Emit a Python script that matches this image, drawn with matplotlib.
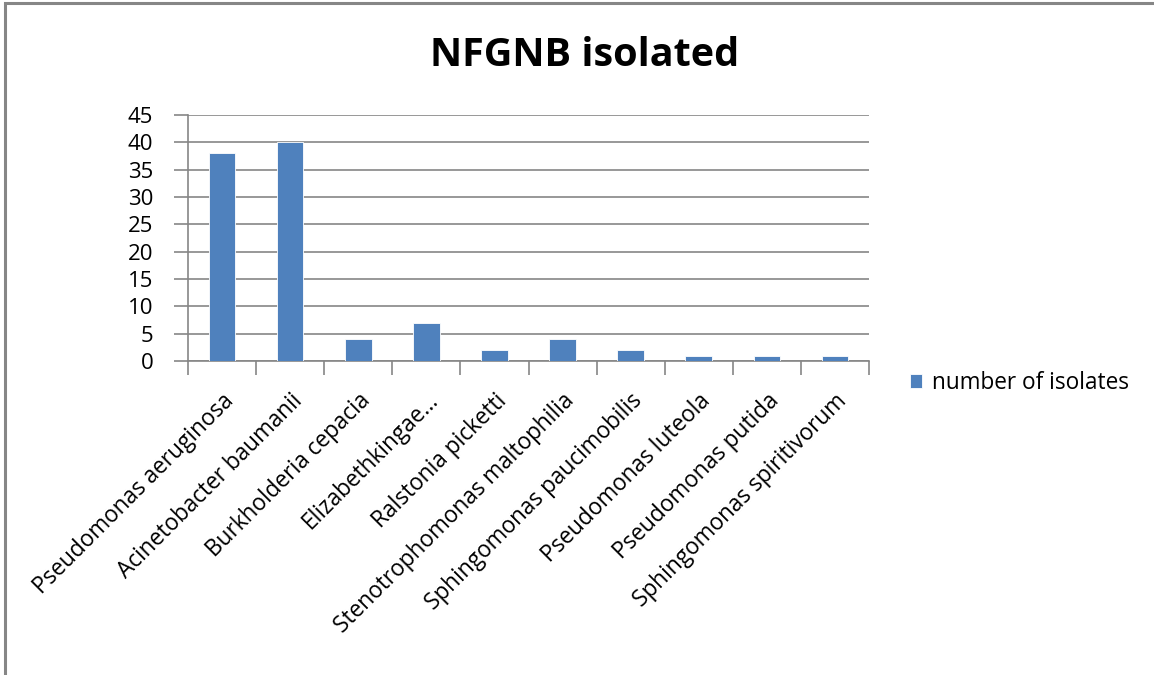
import matplotlib
matplotlib.use("Agg")
import matplotlib.pyplot as plt
from matplotlib.patches import Rectangle
from matplotlib.transforms import ScaledTranslation

categories = [
    "Pseudomonas aeruginosa",
    "Acinetobacter baumanii",
    "Burkholderia cepacia",
    "Elizabethkingae…",
    "Ralstonia picketti",
    "Stenotrophomonas maltophilia",
    "Sphingomonas paucimobilis",
    "Pseudomonas luteola",
    "Pseudomonas putida",
    "Sphingomonas spiritivorum",
]
isolates = [38, 40, 4, 7, 2, 4, 2, 1, 1, 1]
y_ticks = [0, 5, 10, 15, 20, 25, 30, 35, 40, 45]

W, H = 1154, 675
FONT = "Open Sans"
BAR = "#4f81bd"
GRID = "#868686"

fig = plt.figure(figsize=(W / 100, H / 100), dpi=100)
fig.patch.set_facecolor("white")

# outer chart frame (only top and left edges visible)
fig.add_artist(Rectangle((5 / W, -0.1), 1.2, (H - 3) / H + 0.1,
                         transform=fig.transFigure, fill=False,
                         edgecolor="#868686", linewidth=2.2))

left, right, top, bottom = 188, 869, 115, 361
ax = fig.add_axes([left / W, (H - bottom) / H, (right - left) / W, (bottom - top) / H])

x = list(range(len(categories)))
ax.bar(x, isolates, width=0.39, color=BAR, edgecolor="white", linewidth=0.6,
       label="number of isolates", zorder=3)

ax.set_xlim(-0.5, len(categories) - 0.5)
ax.set_ylim(0, 45)
ax.set_yticks(y_ticks)
ax.yaxis.grid(True, color=GRID, linewidth=1.2, zorder=0)
ax.set_axisbelow(True)

for s in ("top", "right"):
    ax.spines[s].set_visible(False)
for s in ("left", "bottom"):
    ax.spines[s].set_color(GRID)
    ax.spines[s].set_linewidth(1.2)

# category boundaries as major ticks, names as minor ticks
ax.set_xticks([i - 0.5 for i in range(len(categories) + 1)])
ax.set_xticklabels([])
ax.set_xticks(x, minor=True)
ax.set_xticklabels(categories, minor=True, rotation=45, ha="right",
                   rotation_mode="anchor", fontsize=16.3, family=FONT)
shift = ScaledTranslation(-6 / 100, 0, fig.dpi_scale_trans)
for t in ax.get_xticklabels(minor=True):
    t.set_transform(t.get_transform() + shift)
ax.tick_params(axis="x", which="major", length=10, color=GRID, width=1.2)
ax.tick_params(axis="x", which="minor", length=0, pad=20)
ax.tick_params(axis="y", length=10, color=GRID, width=1.2, labelsize=16, pad=15)
for t in ax.get_yticklabels():
    t.set_family(FONT)

fig.text(585 / W, 1 - 55 / H, "NFGNB isolated", ha="center", va="center",
         fontsize=28.5, fontweight="bold", family=FONT)

leg = fig.legend(loc="center left", bbox_to_anchor=(910 / W, 1 - 383 / H),
                 frameon=False, prop={"family": FONT, "size": 16.3},
                 handlelength=0.55, handleheight=0.55, handletextpad=0.4,
                 borderaxespad=0, borderpad=0)

fig.savefig("out.png", dpi=100, facecolor="white")
